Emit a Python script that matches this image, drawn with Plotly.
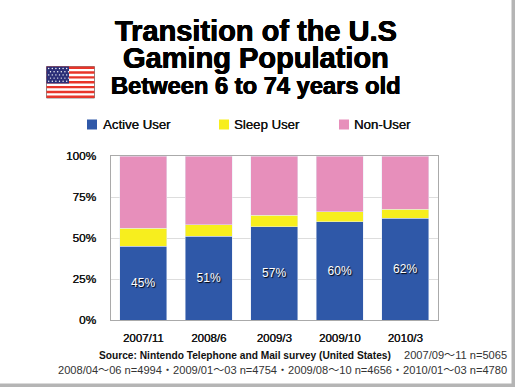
import plotly.graph_objects as go

W, H = 515, 387
categories = ["2007/11", "2008/6", "2009/3", "2009/10", "2010/3"]
active = [45, 51, 57, 60, 62]
sleep = [11, 7, 7, 6, 5.5]
non_user = [44, 42, 36, 34, 32.5]
active_labels = ["45%", "51%", "57%", "60%", "62%"]
series_names = ["Active User", "Sleep User", "Non-User"]
y_ticks = [0, 25, 50, 75, 100]
y_tick_labels = ["0%", "25%", "50%", "75%", "100%"]

BLUE, YELLOW, PINK = "#2f58a8", "#f7ee1e", "#e78fbb"
TXT = "#111111"
FONT = "Liberation Sans, Noto Sans CJK JP"
HEAVY = "0.4px 0 0 #000, -0.4px 0 0 #000, 0 0.3px 0 #000"
SEMI = "0.3px 0 0 #111"


def px(x):
    return x / W


def py(y):
    return 1 - y / H


def rect(x0, y0, x1, y1, color, line=None):
    return dict(type="rect", xref="paper", yref="paper", x0=px(x0), x1=px(x1), y0=py(y0), y1=py(y1),
                fillcolor=color, line=dict(color=line or color, width=1 if line else 0), layer="above")


fig = go.Figure()
fig.add_bar(name=series_names[0], x=categories, y=active, marker_color=BLUE, text=active_labels,
            textposition="inside", insidetextanchor="middle", constraintext="none", textangle=0,
            textfont=dict(color="white", size=12, family=FONT, shadow="1px 1px 1px #000"), hoverinfo="skip")
fig.add_bar(name=series_names[1], x=categories, y=sleep, marker_color=YELLOW, hoverinfo="skip")
fig.add_bar(name=series_names[2], x=categories, y=non_user, marker_color=PINK, hoverinfo="skip")

shapes = []
# page frame shadow
shapes.append(rect(511.5, 0, 515, 384, "#b5b5b5"))
shapes.append(rect(0, 383.5, 515, 387, "#b5b5b5"))
# flag
fx0, fx1, fy0, fy1 = 46.5, 94.5, 66.5, 98
shapes.append(rect(fx0, fy0, fx1, fy1, "white", "#888888"))
for i in range(0, 13, 2):
    sy = fy0 + (fy1 - fy0) * i / 13
    shapes.append(rect(fx0, sy, fx1, sy + (fy1 - fy0) / 13, "#e8352a"))
shapes.append(rect(fx0, fy0, fx0 + 22.5, fy0 + (fy1 - fy0) * 7 / 13, "#2c2f78"))
for r in range(5):
    for c in range(6):
        sx = fx0 + 2.2 + c * 3.6 + (1.8 if r % 2 else 0)
        sy = fy0 + 2 + r * 3.2
        shapes.append(dict(type="circle", xref="paper", yref="paper", x0=px(sx - .7), x1=px(sx + .7),
                           y0=py(sy - .7), y1=py(sy + .7), fillcolor="white", line_width=0, layer="above"))
# legend keys
for kx, col in zip([87, 219, 339], [BLUE, YELLOW, PINK]):
    shapes.append(rect(kx, 119.5, kx + 10, 129.5, col))


def note(x, y, text, size, anchor="center", bold=False, color=TXT, shadow=None):
    font = dict(size=size, color=color, family=FONT)
    if shadow:
        font["shadow"] = shadow
    fig.add_annotation(xref="paper", yref="paper", x=px(x), y=py(y), text=f"<b>{text}</b>" if bold else text,
                       showarrow=False, xanchor=anchor, yanchor="middle", font=font)


note(255.5, 31, "Transition of the U.S", 29, bold=True, color="black", shadow=HEAVY)
note(255.5, 58, "Gaming Population", 29, bold=True, color="black", shadow=HEAVY)
note(255.5, 86, "Between 6 to 74 years old", 23.7, bold=True, color="black", shadow=HEAVY)
for tx, name in zip([101, 232, 352], series_names):
    note(tx, 124.5, name, 13.2, anchor="left", shadow=SEMI)
note(393, 355, "Source: Nintendo Telephone and Mail survey (United States)", 10.2, anchor="right", bold=True)
note(509, 355, "2007/09～11 n=5065", 11.1, anchor="right", color="#333333")
note(509, 370, "2008/04～06 n=4994・2009/01～03 n=4754・2009/08～10 n=4656・2010/01～03 n=4780", 11.1, anchor="right", color="#333333")

fig.update_layout(
    width=W, height=H, margin=dict(l=0, r=0, t=0, b=0, pad=0, autoexpand=False), paper_bgcolor="white", plot_bgcolor="white",
    barmode="stack", bargap=0.28, showlegend=False, shapes=shapes,
    font=dict(family=FONT, color=TXT),
)
fig.update_xaxes(domain=[px(110.5), px(438)], automargin=False, showline=True, linecolor="#aaaaaa", linewidth=1, mirror=True,
                 ticks="outside", ticklen=7, tickcolor="rgba(0,0,0,0)", tickfont=dict(size=11.5, color=TXT, shadow=SEMI),
                 showgrid=False)
fig.update_yaxes(domain=[py(320), py(156)], automargin=False, range=[0, 100], tickvals=y_ticks, ticktext=y_tick_labels,
                 showline=True, linecolor="#aaaaaa", linewidth=1, mirror=True, gridcolor="#dddddd", gridwidth=1,
                 ticks="outside", ticklen=11, tickcolor="rgba(0,0,0,0)", tickfont=dict(size=11.8, color=TXT, shadow=SEMI),
                 zeroline=False)
fig.write_html("out.html", config=dict(displayModeBar=False),
               post_script="document.body.style.margin='0';document.body.style.overflow='hidden';")
